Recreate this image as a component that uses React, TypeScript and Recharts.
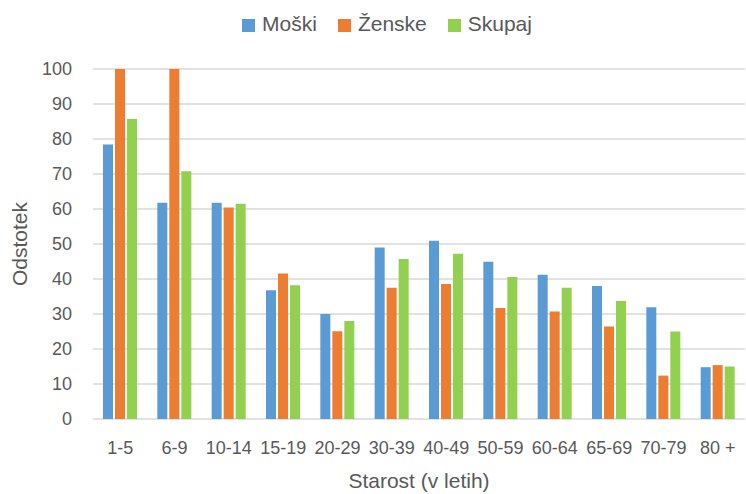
import React from 'react';
import { BarChart, Bar, XAxis, YAxis, CartesianGrid, Legend } from 'recharts';

const categories = ['1-5', '6-9', '10-14', '15-19', '20-29', '30-39', '40-49', '50-59', '60-64', '65-69', '70-79', '80 +'];
const moski = [78.4, 61.8, 61.8, 36.8, 30.0, 49.0, 50.9, 44.9, 41.2, 38.0, 31.9, 14.8];
const zenske = [100, 100, 60.4, 41.6, 25.1, 37.5, 38.6, 31.7, 30.7, 26.4, 12.4, 15.4];
const skupaj = [85.7, 70.8, 61.5, 38.2, 28.0, 45.7, 47.2, 40.6, 37.5, 33.7, 25.0, 15.0];
const yTicks = [0, 10, 20, 30, 40, 50, 60, 70, 80, 90, 100];

const seriesNames = ['Moški', 'Ženske', 'Skupaj'];
const colors = ['#5B9BD5', '#ED7D31', '#92D050'];

const data = categories.map((c, i) => ({
  cat: c,
  m: moski[i],
  z: zenske[i],
  s: skupaj[i],
}));

const TEXT = '#595959';

const LegendContent = () => (
  <div style={{ display: 'flex', justifyContent: 'center', alignItems: 'center' }}>
    {seriesNames.map((n, i) => (
      <div key={n} style={{ display: 'flex', alignItems: 'center', marginRight: i < 2 ? 21 : 0 }}>
        <span style={{ display: 'inline-block', width: 13, height: 13, background: colors[i], marginRight: 7, marginTop: 2 }} />
        <span style={{ fontSize: 21, color: TEXT, lineHeight: '22px' }}>{n}</span>
      </div>
    ))}
  </div>
);

export default function App() {
  return (
    <div style={{ position: 'absolute', left: 0, top: 0, width: 746, height: 494, background: '#fff', fontFamily: '"Liberation Sans", Arial, sans-serif' }}>
      <BarChart
        width={746}
        height={494}
        data={data}
        margin={{ top: 69, right: 1, left: 0, bottom: 0 }}
        barCategoryGap={10}
        barGap={2}
      >
        <CartesianGrid vertical={false} stroke="#d9d9d9" strokeWidth={1.5} />
        <XAxis
          dataKey="cat"
          height={75}
          tickLine={false}
          axisLine={false}
          tickSize={0}
          tickMargin={22}
          interval={0}
          tick={{ fill: TEXT, fontSize: 18 }}
          label={{ value: 'Starost (v letih)', position: 'insideBottom', offset: 6, fill: TEXT, fontSize: 21 }}
        />
        <YAxis
          width={93}
          domain={[0, 100]}
          ticks={yTicks}
          tickLine={false}
          axisLine={false}
          tickSize={0}
          tickMargin={21}
          tick={{ fill: TEXT, fontSize: 18 }}
          label={{ value: 'Odstotek', angle: -90, position: 'insideLeft', offset: 20, fill: TEXT, fontSize: 21, style: { textAnchor: 'middle' } }}
        />
        <Legend
          layout="horizontal"
          verticalAlign="middle"
          align="center"
          content={<LegendContent />}
          wrapperStyle={{ top: 13, left: 28, width: 718 }}
        />
        <Bar dataKey="m" name={seriesNames[0]} fill={colors[0]} isAnimationActive={false} />
        <Bar dataKey="z" name={seriesNames[1]} fill={colors[1]} isAnimationActive={false} />
        <Bar dataKey="s" name={seriesNames[2]} fill={colors[2]} isAnimationActive={false} />
      </BarChart>
    </div>
  );
}
